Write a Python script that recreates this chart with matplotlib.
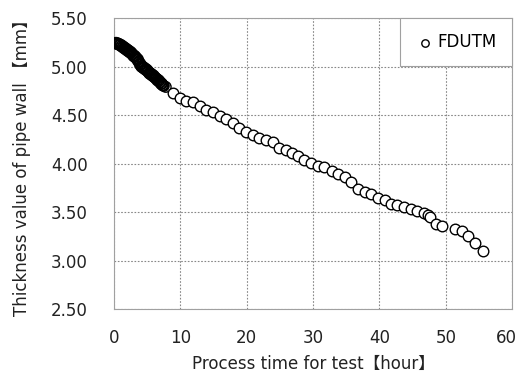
import matplotlib.pyplot as plt
import matplotlib.transforms as mtransforms
from matplotlib.ticker import FormatStrFormatter

# 字体：DejaVu Sans 没有【】，用 CJK 字体兜底
plt.rcParams['font.family'] = ['DejaVu Sans', 'Noto Sans CJK JP']

# 数据：试验时间 (h) 与管壁厚度 (mm)，前 8 小时测点非常密集
hours = [0.2, 0.3, 0.4, 0.5, 0.6, 0.7, 0.8, 0.9, 1.0, 1.1, 1.2, 1.3, 1.4, 1.5,
         1.6, 1.7, 1.8, 1.9, 2.0, 2.1, 2.2, 2.3, 2.4, 2.5, 2.6, 2.7, 2.8, 2.9,
         3.0, 3.1, 3.2, 3.3, 3.4, 3.5, 3.6, 3.7, 3.8, 3.9, 4.0, 4.1, 4.2, 4.3,
         4.4, 4.5, 4.6, 4.7, 4.8, 4.9, 5.0, 5.1, 5.2, 5.3, 5.4, 5.5, 5.6, 5.7,
         5.8, 5.9, 6.0, 6.1, 6.2, 6.3, 6.4, 6.5, 6.6, 6.7, 6.8, 6.9, 7.0, 7.1,
         7.2, 7.3, 7.4, 7.5, 7.8,
         8.9, 9.9, 10.9, 11.9, 12.9, 13.9, 14.9, 15.9, 16.9, 17.9, 18.9, 19.9,
         20.9, 21.9, 22.9, 23.9, 24.9, 25.9, 26.9, 27.8, 28.7, 29.7, 30.7,
         31.7, 32.8, 33.8, 34.8, 35.7, 36.8, 37.8, 38.8, 39.8, 40.8, 41.7,
         42.7, 43.7, 44.7, 45.7, 46.7, 47.3, 47.7, 48.5, 49.5, 51.4, 52.4,
         53.4, 54.4, 55.6]
thickness = [5.24, 5.245, 5.235, 5.24, 5.23, 5.235, 5.225, 5.22, 5.225, 5.21,
             5.215, 5.20, 5.205, 5.19, 5.195, 5.18, 5.185, 5.17, 5.175, 5.16,
             5.165, 5.15, 5.155, 5.14, 5.145, 5.13, 5.125, 5.11, 5.115, 5.10,
             5.105, 5.09, 5.085, 5.07, 5.075, 5.05, 5.045, 5.02, 5.025, 5.00,
             5.005, 4.99, 4.995, 4.98, 4.985, 4.97, 4.975, 4.96, 4.965, 4.95,
             4.945, 4.93, 4.935, 4.92, 4.925, 4.91, 4.915, 4.90, 4.905, 4.89,
             4.885, 4.88, 4.875, 4.86, 4.865, 4.85, 4.855, 4.84, 4.835, 4.82,
             4.825, 4.81, 4.805, 4.80, 4.79,
             4.73, 4.68, 4.65, 4.63, 4.59, 4.55, 4.53, 4.49, 4.46, 4.42, 4.37,
             4.33, 4.29, 4.26, 4.24, 4.22, 4.16, 4.14, 4.11, 4.08, 4.04, 4.01,
             3.98, 3.96, 3.92, 3.89, 3.86, 3.81, 3.74, 3.71, 3.69, 3.65, 3.62,
             3.58, 3.57, 3.555, 3.53, 3.51, 3.49, 3.47, 3.45, 3.38, 3.36, 3.33,
             3.30, 3.25, 3.18, 3.10]

fig = plt.figure(figsize=(5.19, 3.76), dpi=100)
ax = fig.add_axes([0.2197, 0.178, 0.767, 0.774])

# 密集段（< 8 h）圆圈叠在一起几乎成黑带，用空心圆画出叠加效果
n_dense = sum(1 for h in hours if h < 8)
ax.scatter(hours[:n_dense], thickness[:n_dense], s=58, facecolors='none',
           edgecolors='black', linewidths=1.0, zorder=3)
ax.scatter(hours[n_dense:], thickness[n_dense:], s=58, facecolors='white',
           edgecolors='black', linewidths=1.0, label='FDUTM', zorder=3)

ax.set_xlim(0, 60)
ax.set_ylim(2.5, 5.5)
ax.set_xticks(range(0, 61, 10))
ax.set_yticks([2.5, 3.0, 3.5, 4.0, 4.5, 5.0, 5.5])
ax.yaxis.set_major_formatter(FormatStrFormatter('%.2f'))
ax.tick_params(length=0, labelsize=12, colors='#222222')
ax.tick_params(axis='y', pad=19)
ax.tick_params(axis='x', pad=14)

# 虚线网格
ax.grid(True, linestyle=(0, (1.5, 1.5)), color='#888888', linewidth=0.8)
for s in ax.spines.values():
    s.set_color('#a0a0a0')

ax.set_xlabel('Process time for test【hour】', fontsize=12, color='#222222',
              labelpad=6)
ax.set_ylabel('Thickness value of pipe wall 【mm】', fontsize=12,
              color='#222222', labelpad=14)

leg = ax.legend(loc='upper right', borderaxespad=0, fancybox=False,
                edgecolor='#a0a0a0', framealpha=1, fontsize=12,
                markerscale=0.7, handletextpad=0.2, borderpad=0.9,
                handlelength=1.2)
leg.get_frame().set_linewidth(0.8)

# 最右侧 "60" 稍微左移，避免被裁切
fig.canvas.draw()
last = ax.get_xticklabels()[-1]
last.set_transform(last.get_transform() +
                   mtransforms.ScaledTranslation(-4 / 72, 0, fig.dpi_scale_trans))

fig.savefig('out.png', dpi=100)
